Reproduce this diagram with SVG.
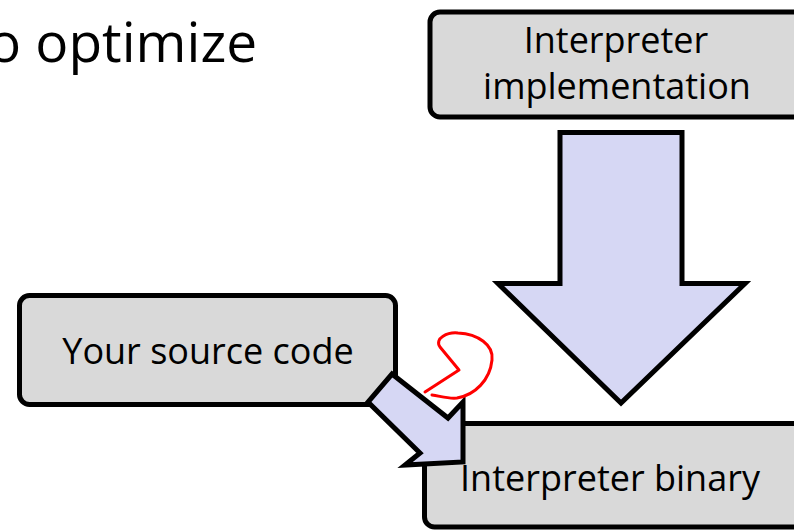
<svg xmlns="http://www.w3.org/2000/svg" width="794" height="530" viewBox="0 0 794 530">
  <style>
    .box { fill: #d9d9d9; stroke: #000; stroke-width: 5; }
    .arrow { fill: #d6d7f4; stroke: #000; stroke-width: 5; stroke-linejoin: miter; stroke-miterlimit: 10; }
    .label { font-family: "Open Sans", "Noto Sans", sans-serif; font-size: 36px; fill: #000; text-anchor: middle; }
    .title { font-family: "Open Sans", "Noto Sans", sans-serif; font-size: 55px; fill: #000; }
    .ink { fill: none; stroke: #ff0000; stroke-width: 3; stroke-linecap: round; stroke-linejoin: round; }
  </style>

  <!-- heading, running off the left edge -->
  <text class="title" x="-12" y="62">o optimize</text>

  <g id="interpreter-implementation">
    <rect class="box" x="430" y="12" width="380" height="105" rx="10"/>
    <text class="label" x="616" y="53">Interpreter</text>
    <text class="label" x="617" y="99">implementation</text>
  </g>

  <g id="your-source-code">
    <rect class="box" x="19.5" y="295.5" width="376" height="109" rx="10"/>
    <text class="label" x="208" y="364">Your source code</text>
  </g>

  <g id="interpreter-binary">
    <rect class="box" x="424.5" y="423.5" width="385" height="103.5" rx="10"/>
    <text class="label" x="610" y="491">Interpreter binary</text>
  </g>

  <g id="connectors">
    <!-- block arrow: implementation down to binary -->
    <polygon class="arrow" points="560,132.5 682,132.5 682,283.5 745,283.5 621,403 498,283.5 560,283.5"/>
    <!-- block arrow: source code into binary -->
    <polygon class="arrow" points="392,374 448,418 463,402 463,462 405,465 420,453 368,402"/>
  </g>

  <!-- hand-drawn red mark -->
  <path class="ink" d="M425,392 L459,370 L440,347 C434,338 448,332 458,333 C478,334 494,345 492,360 C490,380 475,395 457,398 C448,399 440,396 432,395"/>
</svg>
